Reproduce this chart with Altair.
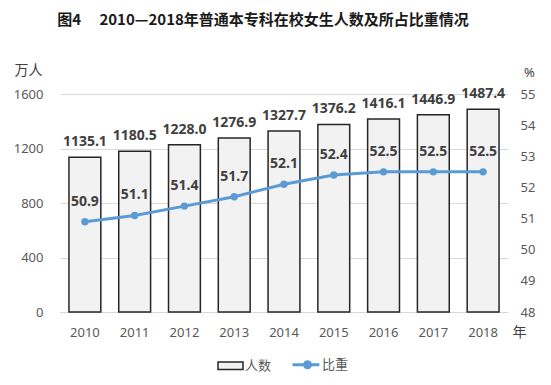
import altair as alt
import pandas as pd

years = ["2010", "2011", "2012", "2013", "2014", "2015", "2016", "2017", "2018"]
students = [1135.1, 1180.5, 1228.0, 1276.9, 1327.7, 1376.2, 1416.1, 1446.9, 1487.4]
share = [50.9, 51.1, 51.4, 51.7, 52.1, 52.4, 52.5, 52.5, 52.5]
left_ticks = [0, 400, 800, 1200, 1600]
right_ticks = [48, 49, 50, 51, 52, 53, 54, 55]

df = pd.DataFrame({"year": years, "students": students, "share": share})

FONT = "Noto Sans"
CJK = "Noto Sans CJK SC"
LABEL_GRAY = "#595959"
BAR_FILL = "#f2f2f2"
BLUE = "#5b9bd5"

x = alt.X("year:N", scale=alt.Scale(paddingInner=0.36, paddingOuter=0.18),
          axis=alt.Axis(title="年", titleFont=CJK, titleFontSize=14, titleFontWeight="normal",
                        titleColor="#404040", titleAngle=0, titleX=459, titleY=20,
                        titleAlign="center", titleBaseline="middle",
                        labelAngle=0, labelFont=FONT, labelFontSize=13, labelColor=LABEL_GRAY,
                        labelPadding=14, ticks=False, tickSize=0, domain=True,
                        domainColor="#d9d9d9", domainWidth=1, grid=False))

y_left = alt.Y("students:Q", scale=alt.Scale(domain=[0, 1600], nice=False),
               axis=alt.Axis(values=left_ticks, format="d", title="万人", titleFont=CJK, titleFontSize=14,
                             titleFontWeight="normal", titleColor="#404040", titleAngle=0,
                             titleX=-32, titleY=-24, titleAlign="center", titleBaseline="middle",
                             labelFont=FONT, labelFontSize=13, labelColor=LABEL_GRAY,
                             labelPadding=17, ticks=False, tickSize=0, domain=False,
                             grid=True, gridColor="#d9d9d9", gridWidth=1))

color = alt.Color("series:N",
                  scale=alt.Scale(domain=["人数", "比重"], range=[BAR_FILL, BLUE]),
                  legend=alt.Legend(
                      title=None, orient="none", direction="horizontal",
                      legendX=164, legendY=264, padding=0,
                      labelFont=CJK, labelFontSize=13, labelColor=LABEL_GRAY,
                      labelOffset=8, columnPadding=14, symbolSize=625,
                      symbolType={"expr": "datum.value === '人数' ? 'M-1,-0.3H1V0.3H-1Z' : 'M-1.2,0H0.95M0.24,0A0.24,0.24,0,1,1,-0.24,0A0.24,0.24,0,1,1,0.24,0Z'"},
                      symbolStrokeColor={"expr": "datum.value === '人数' ? '#262626' : '#5b9bd5'"},
                      symbolStrokeWidth={"expr": "datum.value === '人数' ? 1.5 : 3"},
                  ))

base = alt.Chart(df)

bars = base.mark_bar(stroke="#262626", strokeWidth=1.5).transform_calculate(
    series="'人数'"
).encode(x=x, y=y_left, color=color)

bar_labels = base.mark_text(font=FONT, fontSize=14, fontWeight="bold", color="#404040",
                            baseline="middle", dy=-15).encode(
    x=x, y=y_left, text=alt.Text("students:Q", format=".1f"))

left = alt.layer(bars, bar_labels)

y_right = alt.Y("share:Q", scale=alt.Scale(domain=[48, 55], nice=False),
                axis=alt.Axis(orient="right", values=right_ticks, title="%", titleFont=FONT,
                              titleFontSize=13, titleFontWeight="normal", titleColor="#404040",
                              titleAngle=0, titleX=21, titleY=-22, titleAlign="center",
                              titleBaseline="middle",
                              labelFont=FONT, labelFontSize=13, labelColor=LABEL_GRAY,
                              labelPadding=12, ticks=False, tickSize=0, domain=False, grid=False))

line = base.mark_line(color=BLUE, strokeWidth=3,
                      point=alt.OverlayMarkDef(filled=True, color=BLUE, size=55)).encode(
    x=x, y=y_right)

line_labels = base.mark_text(font=FONT, fontSize=14, fontWeight="bold", color="#404040",
                             baseline="middle", dy=-20).encode(
    x=x, y=y_right, text=alt.Text("share:Q", format=".1f"))

right = alt.layer(line, line_labels)

chart = alt.layer(left, right).resolve_scale(y="independent").properties(
    width=448, height=218,
    autosize=alt.AutoSizeParams(type="none"),
    padding={"left": 52, "top": 86, "right": 34, "bottom": 62},
    title=alt.TitleParams(
        "图4　 2010—2018年普通本专科在校女生人数及所占比重情况",
        font=CJK, fontSize=15, fontWeight="bold", color="#1a1a1a",
        anchor="middle", dx=-21, offset=35),
).configure_view(stroke=None)

chart.save("out.html", embed_options={"renderer": "svg", "actions": False})
